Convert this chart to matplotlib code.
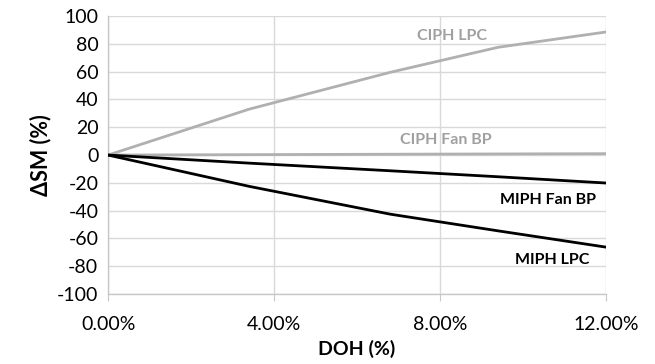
import matplotlib
matplotlib.use("Agg")
import matplotlib.pyplot as plt
from matplotlib.ticker import FuncFormatter, MultipleLocator

plt.rcParams['font.family'] = ['Lato', 'DejaVu Sans']
plt.rcParams['axes.unicode_minus'] = False

# DOH (%) sample points and stall-margin change (%) for each case
doh = [0.0, 3.4, 6.8, 9.4, 12.0]
ciph_lpc = [0.0, 33.0, 59.5, 77.5, 88.5]
ciph_fan_bp = [0.0, 0.3, 0.6, 0.8, 1.0]
miph_fan_bp = [0.0, -5.8, -11.3, -15.6, -20.1]
miph_lpc = [0.0, -22.5, -42.5, -54.5, -66.2]

x_ticks = [0.0, 4.0, 8.0, 12.0]

grey = '#b0b0b0'
grey_text = '#a0a0a0'

fig = plt.figure(figsize=(6.55, 3.64), dpi=100)
ax = fig.add_axes([0.165, 0.192, 0.760, 0.764])

ax.plot(doh, ciph_lpc, color=grey, lw=2.0, zorder=3)
ax.plot(doh, ciph_fan_bp, color=grey, lw=2.0, zorder=3)
ax.plot(doh, miph_fan_bp, color='black', lw=2.0, zorder=4)
ax.plot(doh, miph_lpc, color='black', lw=2.0, zorder=4)

lab = dict(ha='center', va='center', fontsize=11.5, fontweight='bold')
ax.text(8.3, 85.8, 'CIPH LPC', color=grey_text, **lab)
ax.text(8.15, 11.1, 'CIPH Fan BP', color=grey_text, **lab)
ax.text(10.6, -32.0, 'MIPH Fan BP', color='black', **lab)
ax.text(10.7, -75.5, 'MIPH LPC', color='black', **lab)

ax.set_xlim(0, 12)
ax.set_ylim(-100, 100)
ax.set_xticks(x_ticks)
ax.xaxis.set_major_formatter(FuncFormatter(lambda v, p: f'{v:.2f}%'))
ax.yaxis.set_major_locator(MultipleLocator(20))

ax.grid(True, color='#d9d9d9', lw=1.0, zorder=0)
ax.set_axisbelow(True)

for side in ('top', 'right'):
    ax.spines[side].set_visible(False)
for side in ('left', 'bottom'):
    ax.spines[side].set_color('#c8c8c8')
    ax.spines[side].set_linewidth(1.0)

ax.tick_params(axis='x', direction='out', length=5, color='#c8c8c8',
               labelsize=14, pad=11, labelcolor='black')
ax.tick_params(axis='y', length=0, labelsize=14, pad=7)

ax.set_xlabel('DOH (%)', fontsize=14, fontweight='bold', labelpad=5)
ax.set_ylabel('ΔSM (%)', fontsize=15.5, fontweight='bold', labelpad=4)

fig.savefig('out.png', dpi=100)
